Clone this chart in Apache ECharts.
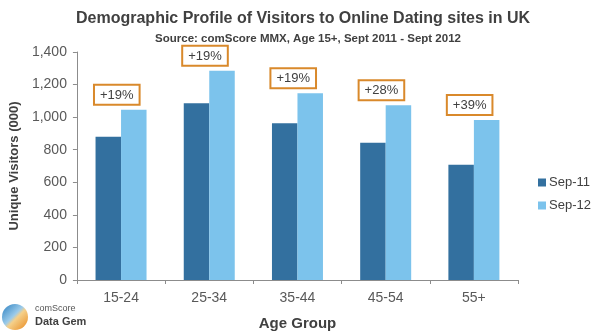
<!DOCTYPE html>
<html>
<head>
<meta charset="utf-8">
<script src="https://cdn.jsdelivr.net/npm/echarts@6/dist/echarts.min.js"></script>
<style>html,body{margin:0;padding:0;background:#fff}#c{width:600px;height:336px}</style>
</head>
<body>
<div id="c"></div>
<script>
const categories = ['15-24', '25-34', '35-44', '45-54', '55+'];
const sep11 = [880, 1085, 962, 842, 708];
const sep12 = [1045, 1285, 1146, 1073, 982];
const growth = ['+19%', '+19%', '+19%', '+28%', '+39%'];
const yTicks = [0, 200, 400, 600, 800, 1000, 1200, 1400];

const chart = echarts.init(document.getElementById('c'));
const font = 'Liberation Sans, Arial, sans-serif';
chart.setOption({
  animation: false,
  title: [{
    text: 'Demographic Profile of Visitors to Online Dating sites in UK',
    left: 298, top: 6, textAlign: 'center',
    textStyle: { fontFamily: font, fontSize: 16, fontWeight: 'bold', color: '#404040' }
  }, {
    text: 'Source: comScore MMX, Age 15+, Sept 2011 - Sept 2012',
    left: 303, top: 28, textAlign: 'center',
    textStyle: { fontFamily: font, fontSize: 11.5, fontWeight: 'bold', color: '#404040' }
  }],
  legend: {
    orient: 'vertical', left: 533, top: 171, itemWidth: 8, itemHeight: 8, itemGap: 10,
    icon: 'rect',
    textStyle: { fontFamily: font, fontSize: 13, color: '#404040', padding: [0, 0, 0, -2] },
    data: ['Sep-11', 'Sep-12']
  },
  grid: { left: 72, right: 82, top: 52, bottom: 54 },
  xAxis: {
    type: 'category', data: categories,
    name: 'Age Group', nameLocation: 'middle', nameGap: 36,
    nameTextStyle: { fontFamily: font, fontSize: 15, fontWeight: 'bold', color: '#404040' },
    axisLine: { lineStyle: { color: '#8c8c8c' } },
    axisTick: { show: true, length: 4, lineStyle: { color: '#8c8c8c' } },
    axisLabel: { fontFamily: font, fontSize: 14, color: '#595959', margin: 11 }
  },
  yAxis: {
    type: 'value', min: yTicks[0], max: yTicks[yTicks.length - 1], interval: 200,
    name: 'Unique Visitors (000)', nameLocation: 'middle', nameGap: 50, nameRotate: 90,
    nameTextStyle: { fontFamily: font, fontSize: 13, fontWeight: 'bold', color: '#404040' },
    axisLine: { show: true, lineStyle: { color: '#8c8c8c' } },
    axisTick: { show: true, length: 4, lineStyle: { color: '#8c8c8c' } },
    splitLine: { show: false },
    axisLabel: {
      fontFamily: font, fontSize: 14, color: '#595959', margin: 10,
      formatter: v => v.toLocaleString('en-US')
    }
  },
  series: [{
    name: 'Sep-11', type: 'bar', data: sep11, barWidth: 25.5, barGap: '0%',
    itemStyle: { color: '#33709F' }
  }, {
    name: 'Sep-12', type: 'bar', data: sep12, barWidth: 25.5,
    itemStyle: { color: '#7CC3EC' },
    label: {
      show: true, position: 'top', distance: 6, offset: [-17, 0],
      formatter: p => growth[p.dataIndex],
      fontFamily: font, fontSize: 13, color: '#404040',
      backgroundColor: '#fff', borderColor: '#D9892B', borderWidth: 2,
      padding: [3, 5, 2, 5]
    }
  }],
  graphic: [{
    type: 'circle', shape: { cx: 15, cy: 317, r: 13 },
    style: {
      fill: new echarts.graphic.LinearGradient(0, 0, 1, 1, [
        { offset: 0, color: '#2A7FC0' }, { offset: 0.45, color: '#9CCBEA' },
        { offset: 0.55, color: '#F5D08A' }, { offset: 1, color: '#E8891E' }
      ])
    }
  }, {
    type: 'text', left: 35, top: 304,
    style: { text: 'comScore', fontFamily: font, fontSize: 9, fill: '#555' }
  }, {
    type: 'text', left: 35, top: 316,
    style: { text: 'Data Gem', fontFamily: font, fontSize: 11, fontWeight: 'bold', fill: '#404040' }
  }]
});
</script>
</body>
</html>
